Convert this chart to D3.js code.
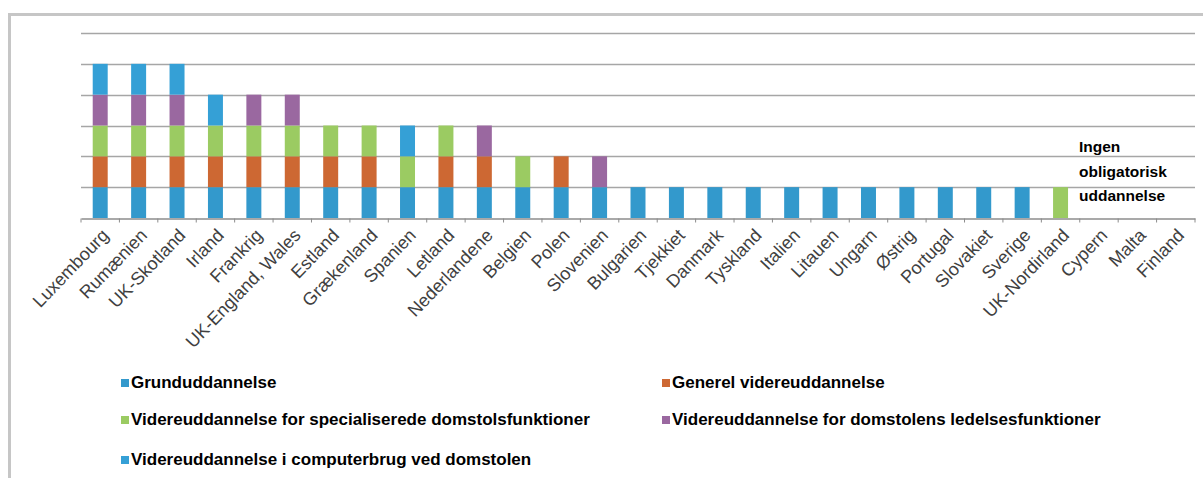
<!DOCTYPE html>
<html>
<head>
<meta charset="utf-8">
<script src="https://cdn.jsdelivr.net/npm/d3@7"></script>
<style>
  html, body { margin: 0; padding: 0; background: #fff; }
  svg { display: block; }
</style>
</head>
<body>
<svg id="chart" width="1203" height="478"></svg>
<script>
// ---- data ----
const categories = ["Luxembourg","Rumænien","UK-Skotland","Irland","Frankrig","UK-England, Wales","Estland","Grækenland","Spanien","Letland","Nederlandene","Belgien","Polen","Slovenien","Bulgarien","Tjekkiet","Danmark","Tyskland","Italien","Litauen","Ungarn","Østrig","Portugal","Slovakiet","Sverige","UK-Nordirland","Cypern","Malta","Finland"];
const grunduddannelse   = [1,1,1,1,1,1,1,1,1,1,1,1,1,1,1,1,1,1,1,1,1,1,1,1,1,0,0,0,0];
const generel           = [1,1,1,1,1,1,1,1,0,1,1,0,1,0,0,0,0,0,0,0,0,0,0,0,0,0,0,0,0];
const specialiserede    = [1,1,1,1,1,1,1,1,1,1,0,1,0,0,0,0,0,0,0,0,0,0,0,0,0,1,0,0,0];
const ledelse           = [1,1,1,0,1,1,0,0,0,0,1,0,0,1,0,0,0,0,0,0,0,0,0,0,0,0,0,0,0];
const computerbrug      = [1,1,1,1,0,0,0,0,1,0,0,0,0,0,0,0,0,0,0,0,0,0,0,0,0,0,0,0,0];
const seriesNames = ["Grunduddannelse","Generel videreuddannelse","Videreuddannelse for specialiserede domstolsfunktioner","Videreuddannelse for domstolens ledelsesfunktioner","Videreuddannelse i computerbrug ved domstolen"];
const seriesColors = ["#3399cc","#cd6833","#9bcb62","#9a68a0","#35a0d6"];
const yTicks = [0,1,2,3,4,5,6];
const annotationLines = ["Ingen","obligatorisk","uddannelse"];

// ---- build table ----
const seriesArrays = [grunduddannelse, generel, specialiserede, ledelse, computerbrug];
const keys = seriesNames;
const table = categories.map((c, i) => {
  const row = { cat: c };
  keys.forEach((k, j) => row[k] = seriesArrays[j][i]);
  return row;
});
const stacked = d3.stack().keys(keys)(table);

const svg = d3.select("#chart");

// frame
svg.append("path")
  .attr("d", "M9.5,478 L9.5,14.5 L1203,14.5")
  .attr("fill", "none").attr("stroke", "#c6c6c6").attr("stroke-width", 3);

const x = d3.scaleBand().domain(categories).range([81, 1195]).paddingInner(0.61).paddingOuter(0.305);
const xTick = d3.scaleBand().domain(categories).range([81, 1195]);
const y = d3.scaleLinear().domain([0, 6]).range([218, 33]);

// gridlines
svg.append("g").selectAll("line").data(yTicks.filter(d => d > 0)).join("line")
  .attr("x1", 81).attr("x2", 1195)
  .attr("y1", d => Math.round(y(d)) + 0.5).attr("y2", d => Math.round(y(d)) + 0.5)
  .attr("stroke", "#a6a6a6").attr("stroke-width", 1.5);

// bars
svg.append("g").selectAll("g").data(stacked).join("g")
  .attr("fill", (d, i) => seriesColors[i])
  .selectAll("rect").data(d => d.filter(s => s[1] > s[0])).join("rect")
  .attr("x", d => x(d.data.cat))
  .attr("width", x.bandwidth())
  .attr("y", d => y(d[1]))
  .attr("height", d => y(d[0]) - y(d[1]));

// x axis
const axis = svg.append("g").attr("transform", "translate(0,218.5)")
  .call(d3.axisBottom(xTick).tickSizeInner(0).tickSizeOuter(0).tickFormat(""));
axis.select(".domain").attr("stroke", "#8c8c8c").attr("stroke-width", 1.5);
axis.selectAll(".tick").remove();
const bounds = categories.map(c => xTick(c)).concat([1195]);
axis.selectAll("line.b").data(bounds).join("line").attr("class", "b")
  .attr("x1", d => d).attr("x2", d => d).attr("y1", 0).attr("y2", 4)
  .attr("stroke", "#8c8c8c").attr("stroke-width", 1);

// category labels
svg.append("g").selectAll("text").data(categories).join("text")
  .attr("transform", d => `translate(${xTick(d) + xTick.bandwidth()/2 + 5},232) rotate(-46)`)
  .attr("text-anchor", "end")
  .attr("dy", "0.35em")
  .attr("font-family", "Liberation Sans, Arial, sans-serif")
  .attr("font-size", 18)
  .attr("fill", "#404040")
  .text(d => d);

// annotation
svg.append("g").selectAll("text").data(annotationLines).join("text")
  .attr("x", 1079)
  .attr("y", (d, i) => 152 + i * 24.5)
  .attr("font-family", "Liberation Sans, Arial, sans-serif")
  .attr("font-weight", "bold")
  .attr("font-size", 15.5)
  .attr("fill", "#000")
  .text(d => d);

// legend
const legendPos = [[124, 382], [665, 382], [124, 419], [665, 419], [124, 459]];
const lg = svg.append("g").selectAll("g").data(seriesNames).join("g")
  .attr("transform", (d, i) => `translate(${legendPos[i][0]},${legendPos[i][1]})`);
lg.append("rect").attr("x", -3).attr("y", -3).attr("width", 8).attr("height", 8)
  .attr("fill", (d, i) => seriesColors[i]);
lg.append("text").attr("x", 7).attr("y", 0).attr("dy", "0.35em")
  .attr("font-family", "Liberation Sans, Arial, sans-serif")
  .attr("font-weight", "bold")
  .attr("font-size", 17)
  .attr("fill", "#000")
  .text(d => d);
</script>
</body>
</html>
